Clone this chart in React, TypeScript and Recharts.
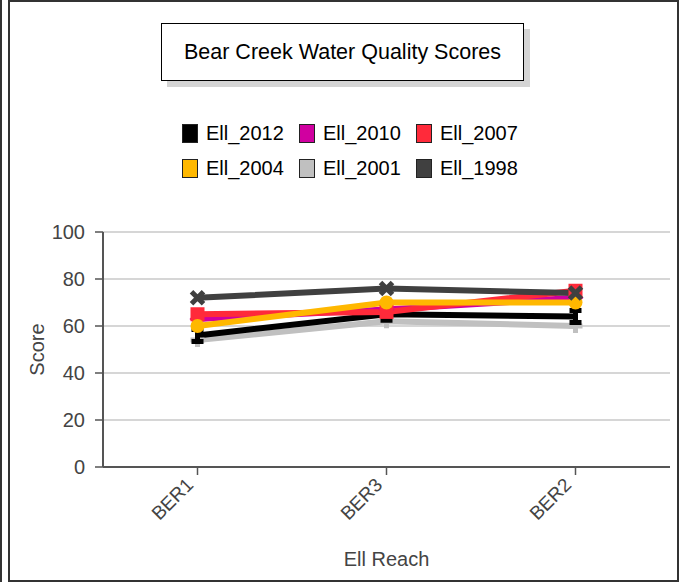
import { LineChart, Line, XAxis, YAxis, CartesianGrid } from "recharts";

const reaches = ["BER1", "BER3", "BER2"];
const ell2012 = [56, 65, 64];
const ell2010 = [63, 67, 72];
const ell2007 = [65, 66, 75];
const ell2004 = [60, 70, 70];
const ell2001 = [54, 62, 60];
const ell1998 = [72, 76, 74];
const yTicks = [0, 20, 40, 60, 80, 100];

const FONT = "'Liberation Sans', Arial, sans-serif";

type Shape = "square" | "diamond" | "circle" | "plus" | "cross" | "bar";

const series: { key: string; name: string; values: number[]; color: string; shape: Shape }[] = [
  { key: "e2001", name: "Ell_2001", values: ell2001, color: "#C0C0C0", shape: "plus" },
  { key: "e2012", name: "Ell_2012", values: ell2012, color: "#000000", shape: "bar" },
  { key: "e2010", name: "Ell_2010", values: ell2010, color: "#D000A0", shape: "diamond" },
  { key: "e2007", name: "Ell_2007", values: ell2007, color: "#FF2A3A", shape: "square" },
  { key: "e2004", name: "Ell_2004", values: ell2004, color: "#FFB800", shape: "circle" },
  { key: "e1998", name: "Ell_1998", values: ell1998, color: "#404040", shape: "cross" },
];

const legendOrder = ["Ell_2012", "Ell_2010", "Ell_2007", "Ell_2004", "Ell_2001", "Ell_1998"];

const data = reaches.map((reach, i) => {
  const row: Record<string, string | number> = { reach };
  series.forEach((s) => {
    row[s.key] = s.values[i];
  });
  return row;
});

function makeDot(shape: Shape, color: string) {
  return (props: { cx?: number; cy?: number; index?: number }) => {
    const { cx, cy, index } = props;
    if (cx == null || cy == null) return <g key={index} />;
    const k = `d${index}`;
    switch (shape) {
      case "square":
        return <rect key={k} x={cx - 7} y={cy - 7} width={14} height={14} fill={color} />;
      case "diamond":
        return <polygon key={k} points={`${cx},${cy - 8} ${cx + 8},${cy} ${cx},${cy + 8} ${cx - 8},${cy}`} fill={color} />;
      case "circle":
        return <circle key={k} cx={cx} cy={cy} r={7} fill={color} />;
      case "plus":
        return (
          <path key={k} d={`M${cx - 7},${cy}H${cx + 7}M${cx},${cy - 7}V${cy + 7}`} stroke={color} strokeWidth={5} />
        );
      case "cross":
        return (
          <path key={k} d={`M${cx - 6},${cy - 6}L${cx + 6},${cy + 6}M${cx + 6},${cy - 6}L${cx - 6},${cy + 6}`} stroke={color} strokeWidth={5} />
        );
      default:
        return (
          <path key={k} d={`M${cx - 6},${cy - 6}H${cx + 6}M${cx - 6},${cy + 6}H${cx + 6}M${cx},${cy - 6}V${cy + 6}`} stroke={color} strokeWidth={5} />
        );
    }
  };
}

function XTick(props: { x?: number; y?: number; payload?: { value: string } }) {
  const { x = 0, y = 0, payload } = props;
  return (
    <text
      x={x - 3}
      y={y + 11}
      textAnchor="end"
      fontSize={19}
      fontFamily={FONT}
      fill="#444"
      transform={`rotate(-45, ${x - 3}, ${y + 11})`}
    >
      {payload?.value}
    </text>
  );
}

function ChartLegend() {
  const rows = [legendOrder.slice(0, 3), legendOrder.slice(3)];
  return (
    <>
      {rows.map((row, r) =>
        row.map((name, c) => {
          const s = series.find((ss) => ss.name === name)!;
          return (
            <div
              key={name}
              style={{
                position: "absolute",
                left: 182 + c * 117,
                top: 123 + r * 35,
                height: 20,
                display: "flex",
                alignItems: "center",
                fontFamily: FONT,
                fontSize: 20,
                color: "#000",
                whiteSpace: "nowrap",
              }}
            >
              <span
                style={{
                  display: "inline-block",
                  width: 14,
                  height: 17,
                  background: s.color,
                  border: "1.5px solid #222",
                  marginRight: 8,
                }}
              />
              {name}
            </div>
          );
        })
      )}
    </>
  );
}

export default function App() {
  return (
    <div style={{ position: "absolute", left: 0, top: 0, width: 679, height: 582, background: "#fff" }}>
      {/* outer frame */}
      <div style={{ position: "absolute", left: 0, top: 0, width: 2, height: 582, background: "#333" }} />
      <div
        style={{
          position: "absolute",
          left: 8,
          top: 0,
          width: 667,
          height: 578,
          border: "2px solid #333",
        }}
      />
      <div
        style={{
          position: "absolute",
          left: 161,
          top: 23,
          width: 361,
          height: 56,
          border: "1.5px solid #000",
          boxShadow: "6px 6px 0 #d4d4d4",
          background: "#fff",
          display: "flex",
          alignItems: "center",
          justifyContent: "center",
          fontFamily: FONT,
          fontSize: 21.5,
          color: "#000",
        }}
      >
        Bear Creek Water Quality Scores
      </div>
      <ChartLegend />
      <div style={{ position: "absolute", left: 0, top: 0 }}>
        <LineChart width={679} height={582} data={data} margin={{ top: 232, right: 9, bottom: 0, left: 0 }}>
          <CartesianGrid vertical={false} stroke="#c8c8c8" strokeWidth={1.5} />
          <XAxis
            dataKey="reach"
            height={115}
            padding={{ left: 94.5, right: 94.5 }}
            tickSize={8}
            tickMargin={0}
            tick={<XTick />}
            axisLine={{ stroke: "#555", strokeWidth: 2 }}
            tickLine={{ stroke: "#555", strokeWidth: 1.5 }}
            label={{ value: "Ell Reach", position: "insideBottom", offset: 16, fontSize: 20, fontFamily: FONT, fill: "#444" }}
          />
          <XAxis xAxisId="top" dataKey="reach" orientation="top" height={0} tick={false} tickLine={false} axisLine={{ stroke: "#555", strokeWidth: 2 }} />
          <YAxis
            domain={[0, 100]}
            ticks={yTicks}
            width={103}
            tickSize={8}
            tickMargin={10}
            tick={{ fontSize: 20, fontFamily: FONT, fill: "#444" }}
            axisLine={{ stroke: "#555", strokeWidth: 2 }}
            tickLine={{ stroke: "#555", strokeWidth: 1.5 }}
            label={{ value: "Score", angle: -90, position: "insideLeft", offset: 37, fontSize: 20, fontFamily: FONT, fill: "#444", style: { textAnchor: "middle" } }}
          />
          <YAxis yAxisId="right" orientation="right" domain={[0, 100]} width={0} tick={false} tickLine={false} axisLine={{ stroke: "#555", strokeWidth: 2 }} />
          {series.map((s) => (
            <Line
              key={s.key}
              dataKey={s.key}
              name={s.name}
              type="linear"
              stroke={s.color}
              strokeWidth={6}
              dot={makeDot(s.shape, s.color)}
              activeDot={false}
              isAnimationActive={false}
            />
          ))}
        </LineChart>
      </div>
    </div>
  );
}
